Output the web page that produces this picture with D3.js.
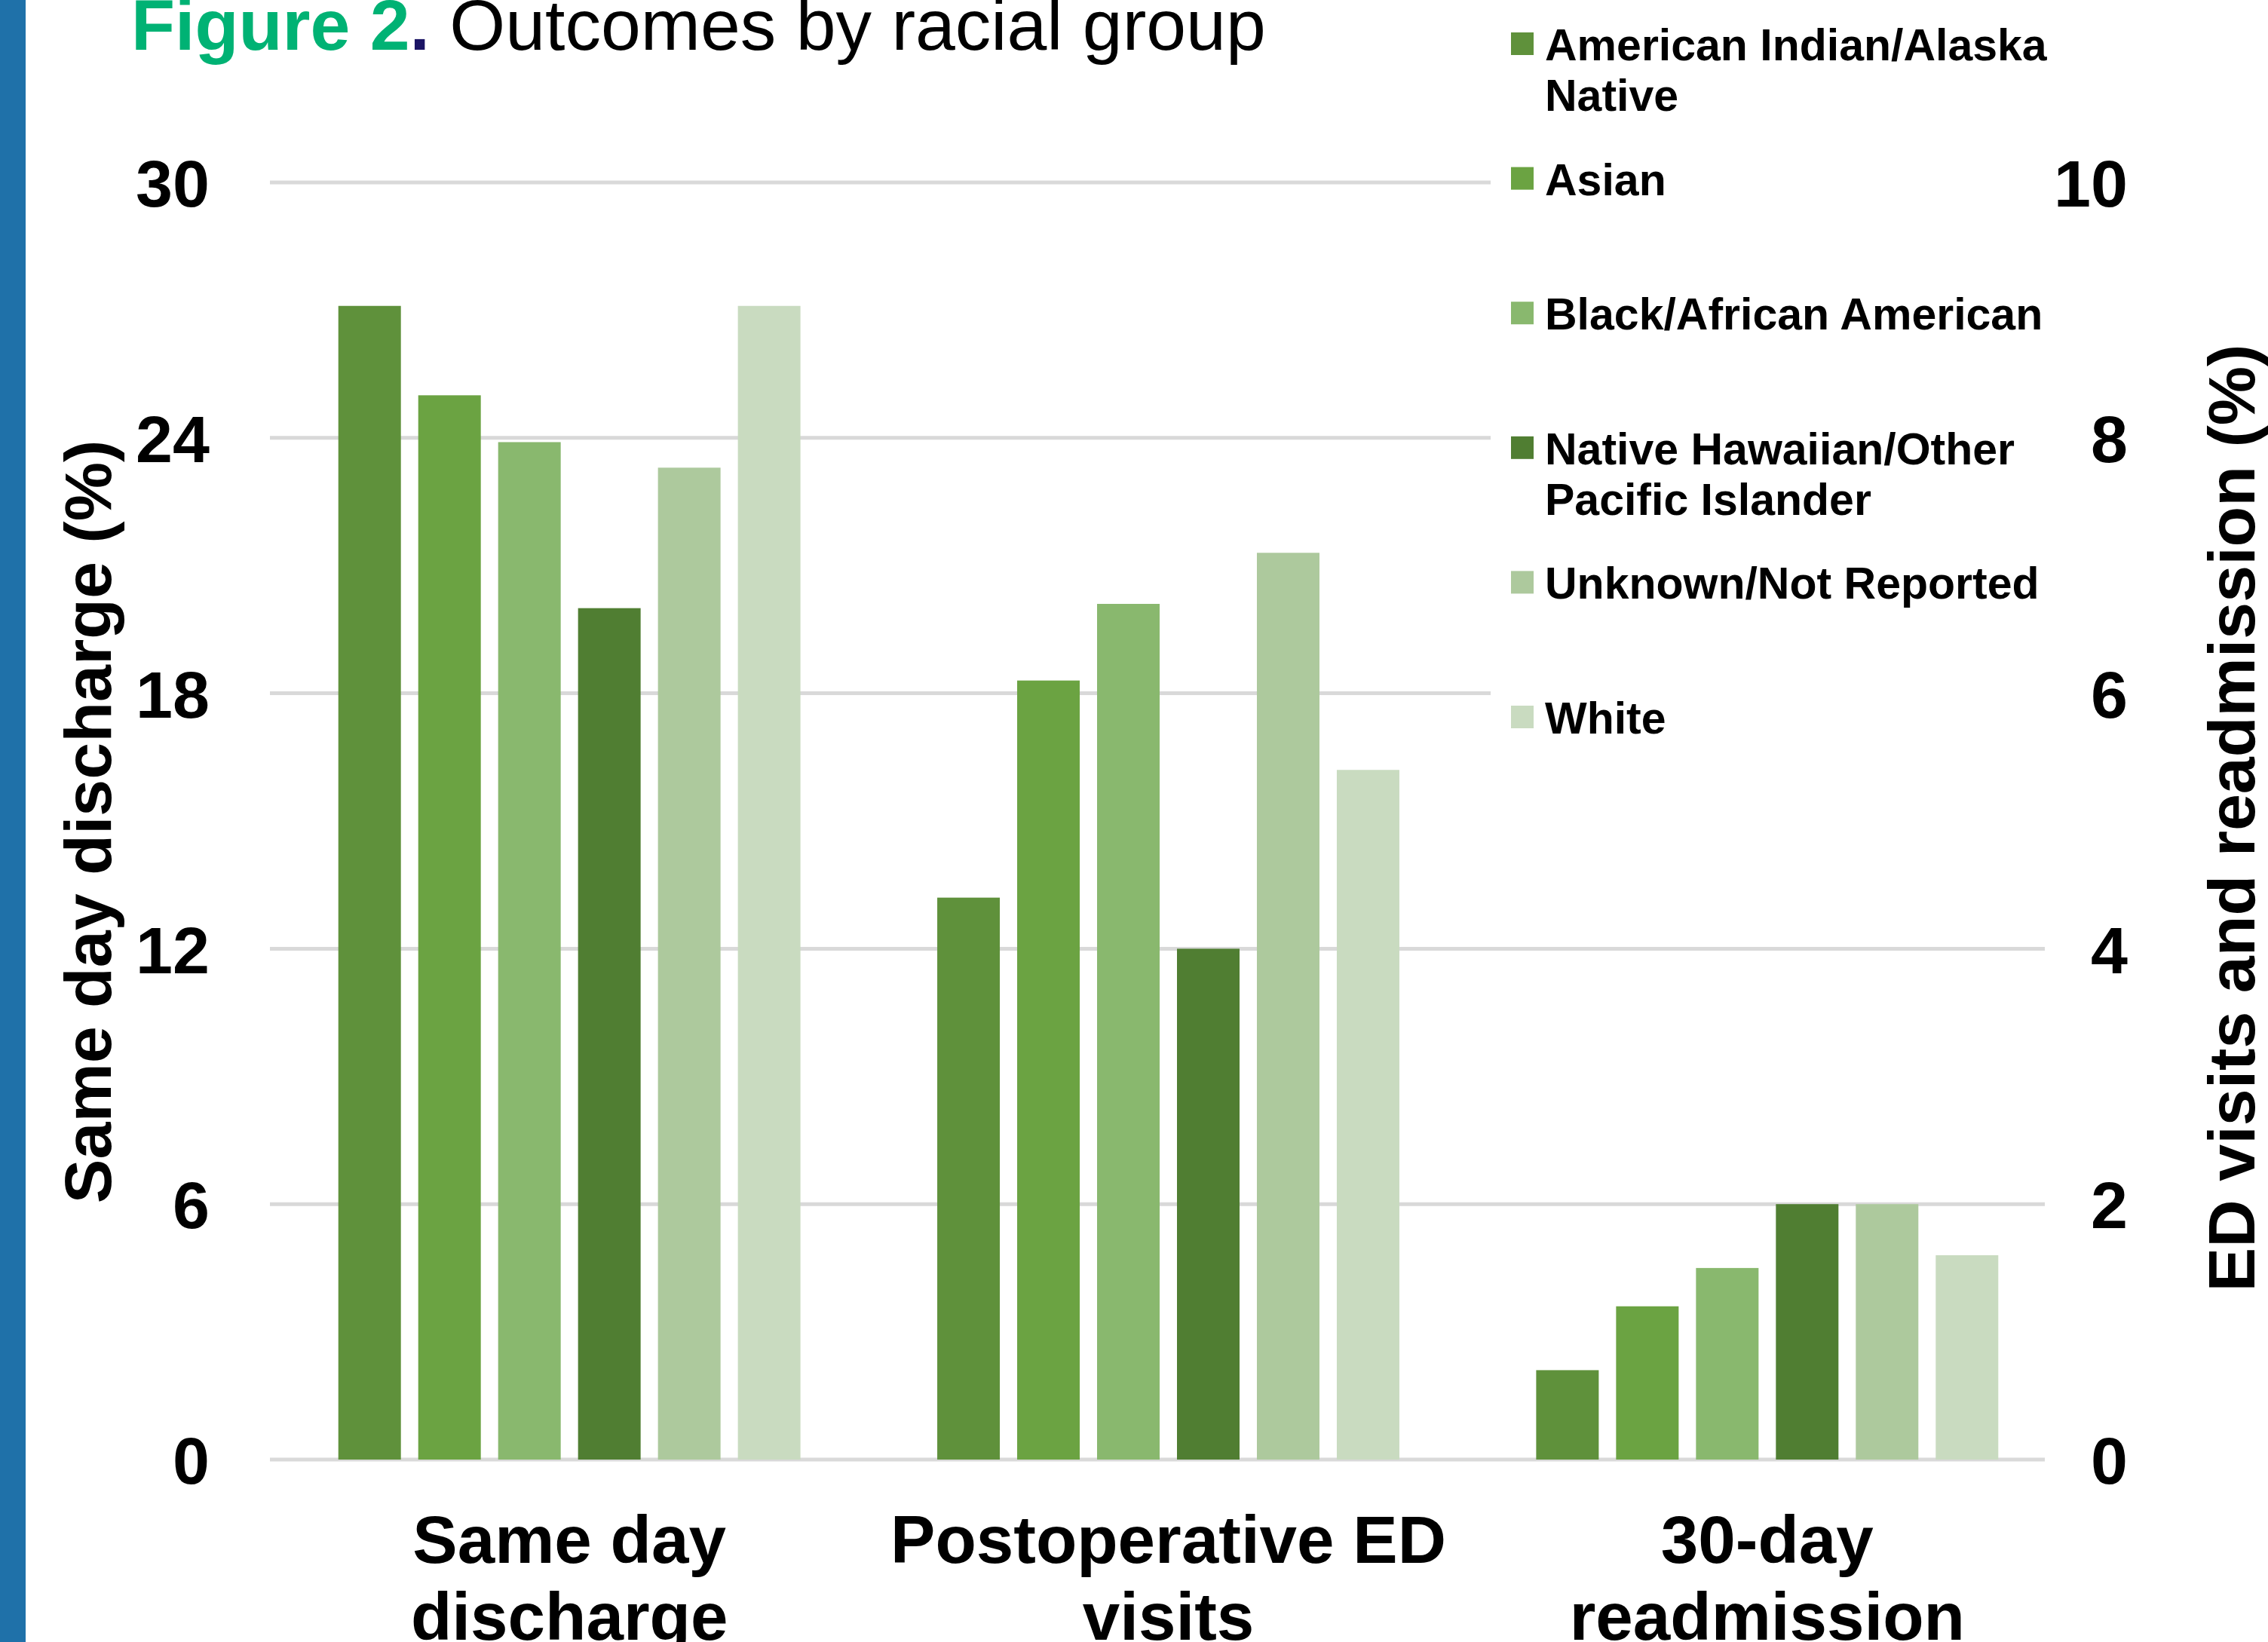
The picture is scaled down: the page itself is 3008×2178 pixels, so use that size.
<!DOCTYPE html>
<html>
<head>
<meta charset="utf-8">
<script src="https://cdn.jsdelivr.net/npm/d3@7"></script>
<style>
  body { margin: 0; background: #fff; }
  text { font-family: "Liberation Sans", Arial, sans-serif; }
</style>
</head>
<body>
<div id="chart"></div>
<script>
const width = 3008;
const height = 2178;

// data
const categories = ["Same day discharge", "Postoperative ED visits", "30-day readmission"];
const categoryLines = [["Same day", "discharge"], ["Postoperative ED", "visits"], ["30-day", "readmission"]];
const races = ["American Indian/Alaska Native", "Asian", "Black/African American",
  "Native Hawaiian/Other Pacific Islander", "Unknown/Not Reported", "White"];
const raceLines = [["American Indian/Alaska", "Native"], ["Asian"], ["Black/African American"],
  ["Native Hawaiian/Other", "Pacific Islander"], ["Unknown/Not Reported"], ["White"]];
const sameDay = [27.1, 25.0, 23.9, 20.0, 23.3, 27.1];   // left axis
const edVisits = [4.4, 6.1, 6.7, 4.0, 7.1, 5.4];       // right axis
const readmit = [0.7, 1.2, 1.5, 2.0, 2.0, 1.6];        // right axis
const leftTicks = [0, 6, 12, 18, 24, 30];
const rightTicks = [0, 2, 4, 6, 8, 10];
const colors = ["#5f913b", "#6ba342", "#89b86e", "#507e32", "#adc99d", "#c9dbc0"];

const svg = d3.select("#chart")
  .append("svg")
  .attr("width", width)
  .attr("height", height);

svg.append("rect").attr("width", width).attr("height", height).attr("fill", "#fff");

// blue strip on the left edge
svg.append("rect").attr("x", 0).attr("y", 0).attr("width", 34).attr("height", height).attr("fill", "#1f71a9");

// title
const title = svg.append("text").attr("x", 174).attr("y", 66).style("font-size", "95px");
title.append("tspan").attr("font-weight", "bold").attr("fill", "#00b274").text("Figure 2");
title.append("tspan").attr("font-weight", "bold").attr("fill", "#1b1464").text(".");
title.append("tspan").attr("fill", "#000").text(" Outcomes by racial group");

// scales
const yLeft = d3.scaleLinear().domain([0, 30]).range([1936, 242]);
const yRight = d3.scaleLinear().domain([0, 10]).range([1936, 242]);

const x0 = d3.scaleBand().domain(categories).range([358, 2741]).padding(0);
const x1 = d3.scaleBand().domain(races).range([0, x0.bandwidth()])
  .paddingInner(0.217).paddingOuter(0.856);

// gridlines (upper ones stop short where the legend sits)
svg.append("g")
  .selectAll("line")
  .data(leftTicks)
  .join("line")
  .attr("x1", 358)
  .attr("x2", d => d >= 18 ? 1977 : 2712)
  .attr("y1", d => yLeft(d))
  .attr("y2", d => yLeft(d))
  .attr("stroke", "#d9d9d9")
  .attr("stroke-width", 5);

// bars
const series = [
  { cat: categories[0], values: sameDay, y: yLeft },
  { cat: categories[1], values: edVisits, y: yRight },
  { cat: categories[2], values: readmit, y: yRight }
];

const groups = svg.append("g")
  .selectAll("g")
  .data(series)
  .join("g")
  .attr("transform", d => `translate(${x0(d.cat)},0)`);

groups.selectAll("rect")
  .data(d => d.values.map((v, i) => ({ race: races[i], v: v, y: d.y, i: i })))
  .join("rect")
  .attr("x", d => x1(d.race))
  .attr("width", x1.bandwidth())
  .attr("y", d => d.y(d.v))
  .attr("height", d => d.y(0) - d.y(d.v))
  .attr("fill", d => colors[d.i]);

// left axis
const leftAxis = svg.append("g")
  .attr("transform", "translate(278,0)")
  .call(d3.axisLeft(yLeft).tickValues(leftTicks).tickSize(0).tickPadding(0));
leftAxis.select(".domain").remove();
leftAxis.selectAll("text")
  .style("font-size", "88px").style("font-weight", "bold").attr("fill", "#000")
  .attr("dy", "0.36em");

// right axis
const rightAxis = svg.append("g")
  .attr("transform", "translate(2822,0)")
  .call(d3.axisRight(yRight).tickValues(rightTicks).tickSize(0).tickPadding(0));
rightAxis.select(".domain").remove();
rightAxis.selectAll("text")
  .style("font-size", "88px").style("font-weight", "bold").attr("fill", "#000")
  .attr("text-anchor", "end").attr("dy", "0.36em");

// category axis
const bottomAxis = svg.append("g")
  .attr("transform", "translate(0,1936)")
  .call(d3.axisBottom(x0).tickSize(0).tickFormat(""));
bottomAxis.select(".domain").remove();
bottomAxis.selectAll(".tick text").remove();
bottomAxis.selectAll(".tick")
  .append("text")
  .attr("text-anchor", "middle")
  .attr("fill", "#000")
  .style("font-size", "89px")
  .style("font-weight", "bold")
  .selectAll("tspan")
  .data((d, i) => categoryLines[i])
  .join("tspan")
  .attr("x", 0)
  .attr("y", (d, i) => 137 + i * 102)
  .text(d => d);

// axis titles
svg.append("text")
  .attr("transform", "translate(147,1090) rotate(-90)")
  .attr("text-anchor", "middle")
  .style("font-size", "88px").style("font-weight", "bold")
  .text("Same day discharge (%)");

svg.append("text")
  .attr("transform", "translate(2990,1085) rotate(-90)")
  .attr("text-anchor", "middle")
  .style("font-size", "88px").style("font-weight", "bold")
  .text("ED visits and readmission (%)");

// legend
const legend = svg.append("g").attr("transform", "translate(2004,0)");
const items = legend.selectAll("g")
  .data(races)
  .join("g")
  .attr("transform", (d, i) => `translate(0,${80 + i * 178.6})`);

items.append("rect")
  .attr("x", 0).attr("y", -37)
  .attr("width", 30).attr("height", 30)
  .attr("fill", (d, i) => colors[i]);

items.append("text")
  .attr("fill", "#000")
  .style("font-size", "59px")
  .style("font-weight", "bold")
  .selectAll("tspan")
  .data((d, i) => raceLines[i])
  .join("tspan")
  .attr("x", 45)
  .attr("y", (d, i) => i * 67)
  .text(d => d);
</script>
</body>
</html>
